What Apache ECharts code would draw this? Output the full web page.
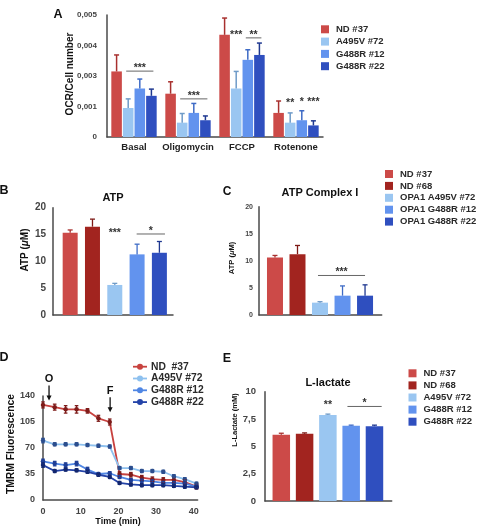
<!DOCTYPE html>
<html><head><meta charset="utf-8">
<script src="https://cdn.jsdelivr.net/npm/echarts@6.0.0/dist/echarts.min.js"></script>
<style>html,body{margin:0;padding:0;background:#fff}#c{width:477px;height:531px}</style>
</head><body><div id="c"></div>
<script>
// ---------------- DATA ----------------
// Panel A (OCR / cell number), plotted scale units
const aCategories = ['Basal', 'Oligomycin', 'FCCP', 'Rotenone'];
const aSeriesNames = ['ND #37', 'A495V #72', 'G488R #12', 'G488R #22'];
const aTickLabels = ['0', '0,001', '0,003', '0,004', '0,005'];
const aND37 = [0.00215, 0.00142, 0.00335, 0.00079];
const aA495V72 = [0.00095, 0.00047, 0.00159, 0.00047];
const aG488R12 = [0.00159, 0.00079, 0.00253, 0.00055];
const aG488R22 = [0.00135, 0.00055, 0.00269, 0.00038];
const aND37Err = [0.00054, 0.00039, 0.00055, 0.00039];
const aA495V72Err = [0.00030, 0.00030, 0.00056, 0.00032];
const aG488R12Err = [0.00031, 0.00031, 0.00033, 0.00031];
const aG488R22Err = [0.00022, 0.00014, 0.00039, 0.00015];
const aSig = [
  {cat: 0, from: 1, to: 3, y: 0.00216, text: '***', line: true},
  {cat: 1, from: 1, to: 3, y: 0.00125, text: '***', line: true},
  {cat: 2, from: 1, to: 1, y: 0.00340, text: '***', line: false},
  {cat: 2, from: 2, to: 3, y: 0.00325, text: '**', line: true},
  {cat: 3, from: 1, to: 1, y: 0.00118, text: '**', line: false},
  {cat: 3, from: 2, to: 2, y: 0.00122, text: '*', line: false},
  {cat: 3, from: 3, to: 3, y: 0.00120, text: '***', line: false}
];

// Panel B (ATP) and C (ATP Complex I)
const bcLegendNames = ['ND #37', 'ND #68', 'OPA1 A495V #72', 'OPA1 G488R #12', 'OPA1 G488R #22'];
const bValues = [15.35, 16.47, 5.6, 11.3, 11.6];
const bErrors = [0.5, 1.4, 0.3, 1.9, 2.1];
const bSig = [
  {from: 2, to: 2, y: 15.7, text: '***', line: false},
  {from: 2.98, to: 4.25, y: 15.1, text: '*', line: true}
];
const cValues = [10.6, 11.24, 2.28, 3.57, 3.57];
const cErrors = [0.4, 1.6, 0.18, 1.8, 2.0];
const cSig = [
  {from: 1.91, to: 4.0, y: 7.3, text: '***', line: true}
];
const yTicksBC = ['0', '5', '10', '15', '20'];

// Panel D (TMRM fluorescence over time)
const dLegendNames = ['ND  #37', 'A495V #72', 'G488R #12', 'G488R #22'];
const dTimes = [0, 3.1, 6, 8.9, 11.8, 14.7, 17.7, 20.3, 23.3, 26.2, 29, 31.9, 34.7, 37.6, 40.7];
const dND37 = [128, 125, 122, 122, 120, 110, 105, 35, 34, 30, 28, 27, 27, 24, 18];
const dA495V72 = [80, 75, 75, 75, 74, 73, 72, 43, 43, 39, 39, 38, 32, 28, 22];
const dG488R12 = [52, 49, 47, 49, 41, 35, 36, 31, 27, 26, 25, 23, 23, 22, 18];
const dG488R22 = [47, 39, 41, 40, 38, 34, 31, 23, 21, 20, 20, 20, 19, 18, 17];
const dND37Err = [4, 4, 5, 5, 3, 4, 4, 3, 3, 3, 3, 3, 3, 3, 3];
const dA495V72Err = [3, 2, 2, 2, 2, 2, 2, 2, 2, 2, 2, 2, 2, 2, 2];
const dG488R12Err = [3, 3, 3, 3, 3, 2, 2, 2, 2, 2, 2, 2, 2, 2, 2];
const dG488R22Err = [3, 2, 2, 2, 2, 2, 2, 2, 2, 2, 2, 2, 2, 2, 2];
const dArrowTimes = [1.6, 17.8];
const dArrowLevels = [134, 118];
const dArrowLabels = ['O', 'F'];

// Panel E (L-lactate)
const eLegendNames = ['ND #37', 'ND #68', 'A495V #72', 'G488R #12', 'G488R #22'];
const eValues = [6.06, 6.15, 7.86, 6.88, 6.85];
const eErrors = [0.14, 0.08, 0.09, 0.06, 0.09];
const eTickLabels = ['0', '2,5', '5', '7,5', '10'];
const eSig = [
  {from: 2, to: 2, y: 9.0, text: '**', line: false},
  {from: 2.84, to: 4.31, y: 8.65, text: '*', line: true}
];

// ---------------- STYLE ----------------
const FONT = '"Liberation Sans", Arial, Helvetica, sans-serif';
const cND37 = '#CC4A48', cND68 = '#A2241F', cA495V = '#9AC6F1', cG12 = '#6293EE', cG22 = '#2F4FBF';
const barColors5 = [cND37, cND68, cA495V, cG12, cG22];
const errColors5 = ['#A8302E', '#7E1A16', '#6F9BC8', '#3E6BC6', '#1F3890'];
const aColors = [cND37, cA495V, cG12, cG22];
const aErrColors = ['#A8302E', '#6F9BC8', '#3E6BC6', '#1F3890'];
const dLineColors = ['#C8423F', '#8EC1EF', '#4F86E4', '#2443A8'];
const dMarkColors = ['#7E1C1A', '#2C4E8E', '#1F3E96', '#13276F'];
const A_CAT_GAP = 0.16, A_BAR_GAP = 0.10;

const aValues = [aND37, aA495V72, aG488R12, aG488R22];
const aErrors = [aND37Err, aA495V72Err, aG488R12Err, aG488R22Err];
const dValues = [dND37, dA495V72, dG488R12, dG488R22];
const dErrors = [dND37Err, dA495V72Err, dG488R12Err, dG488R22Err];

function barCenterOffset(catWidth, idx, n) {
  const usable = catWidth * (1 - A_CAT_GAP);
  const bw = usable / (n + (n - 1) * A_BAR_GAP);
  return -usable / 2 + idx * bw * (1 + A_BAR_GAP) + bw / 2;
}

const axisLine = {show: true, onZero: false, lineStyle: {color: '#4a4a4a', width: 1.5}};
function yAxisCfg(gi, min, max, interval, fs, margin, formatter) {
  return {type: 'value', gridIndex: gi, min, max, interval,
    axisLine, axisTick: {show: false}, splitLine: {show: false},
    axisLabel: {fontFamily: FONT, fontWeight: 'bold', fontSize: fs, color: '#444', margin, formatter}};
}
function hiddenXValue(gi, min, max) {
  return {type: 'value', gridIndex: gi, min, max, axisLine,
    axisTick: {show: false}, splitLine: {show: false}, axisLabel: {show: false}};
}

function errRenderCat(sIdx, color) {
  return function (params, api) {
    const cat = api.value(0);
    const base = api.coord([cat, api.value(1)]);
    const top = api.coord([cat, api.value(1) + api.value(2)]);
    const w = api.size([1, 0])[0];
    const x = base[0] + barCenterOffset(w, sIdx, 4);
    return {type: 'group', children: [
      {type: 'line', shape: {x1: x, y1: base[1], x2: x, y2: top[1]}, style: {stroke: color, lineWidth: 1.5}},
      {type: 'line', shape: {x1: x - 2.5, y1: top[1], x2: x + 2.5, y2: top[1]}, style: {stroke: color, lineWidth: 1.5}}
    ]};
  };
}
function errRenderVal(colors, cap, both) {
  return function (params, api) {
    const x = api.value(0), v = api.value(1), e = api.value(2);
    const base = api.coord([x, both ? v - e : v]);
    const top = api.coord([x, v + e]);
    const col = colors[params.dataIndex] || colors[0];
    const ch = [
      {type: 'line', shape: {x1: base[0], y1: base[1], x2: base[0], y2: top[1]}, style: {stroke: col, lineWidth: 1.3}},
      {type: 'line', shape: {x1: base[0] - cap, y1: top[1], x2: base[0] + cap, y2: top[1]}, style: {stroke: col, lineWidth: 1.3}}
    ];
    if (both) ch.push({type: 'line', shape: {x1: base[0] - cap, y1: base[1], x2: base[0] + cap, y2: base[1]}, style: {stroke: col, lineWidth: 1.3}});
    return {type: 'group', children: ch};
  };
}
function sigRender(list, catMode, fs) {
  return function (params, api) {
    const s = list[params.dataIndex];
    let x1, x2, py;
    if (catMode) {
      const c = api.coord([s.cat, s.y]);
      const w = api.size([1, 0])[0];
      x1 = c[0] + barCenterOffset(w, s.from, 4) - (s.line ? 2 : 0);
      x2 = c[0] + barCenterOffset(w, s.to, 4) + (s.line ? 2 : 0);
      py = c[1];
    } else {
      const a = api.coord([s.from, s.y]), b = api.coord([s.to, s.y]);
      x1 = a[0]; x2 = b[0]; py = a[1];
    }
    const ch = [];
    if (s.line) ch.push({type: 'line', shape: {x1, y1: py, x2, y2: py}, style: {stroke: '#666', lineWidth: 1}});
    ch.push({type: 'text', x: (x1 + x2) / 2, y: py - (s.line ? 5 : 0) + 2,
      style: {text: s.text, fontFamily: FONT, fontWeight: 'bold', fontSize: fs, fill: '#333', align: 'center', verticalAlign: 'middle'}});
    return {type: 'group', children: ch};
  };
}
function arrowRender(params, api) {
  const p = api.coord([api.value(0), api.value(1)]);
  const x = p[0], tip = p[1];
  return {type: 'group', children: [
    {type: 'line', shape: {x1: x, y1: tip - 15, x2: x, y2: tip - 3}, style: {stroke: '#111', lineWidth: 1.3}},
    {type: 'polygon', shape: {points: [[x - 2.5, tip - 5], [x + 2.5, tip - 5], [x, tip]]}, style: {fill: '#111'}},
    {type: 'text', x: x, y: tip - 21, style: {text: dArrowLabels[params.dataIndex], fontFamily: FONT, fontWeight: 'bold', fontSize: 11, fill: '#111', align: 'center', verticalAlign: 'middle'}}
  ]};
}

// ---------------- SERIES ----------------
const series = [];
aSeriesNames.forEach((name, i) => {
  series.push({type: 'bar', name, xAxisIndex: 0, yAxisIndex: 0, data: aValues[i],
    barGap: (A_BAR_GAP * 100) + '%', barCategoryGap: (A_CAT_GAP * 100) + '%',
    itemStyle: {color: aColors[i]}, z: 2});
});
aSeriesNames.forEach((name, i) => {
  series.push({type: 'custom', xAxisIndex: 0, yAxisIndex: 0, z: 3,
    data: aValues[i].map((v, k) => [k, v, aErrors[i][k]]), renderItem: errRenderCat(i, aErrColors[i])});
});
series.push({type: 'custom', xAxisIndex: 0, yAxisIndex: 0, z: 4,
  data: aSig.map(s => [s.cat, s.y]), renderItem: sigRender(aSig, true, 10.5)});

[[1, bValues, bErrors, bSig, 15], [2, cValues, cErrors, cSig, 16], [4, eValues, eErrors, eSig, 17.5]].forEach(([gi, vals, errs, sig, bw]) => {
  series.push({type: 'bar', xAxisIndex: gi, yAxisIndex: gi, barWidth: bw, z: 2,
    data: vals.map((v, i) => ({value: [i, v], itemStyle: {color: barColors5[i]}}))});
  series.push({type: 'custom', xAxisIndex: gi, yAxisIndex: gi, z: 3,
    data: vals.map((v, i) => [i, v, errs[i]]), renderItem: errRenderVal(errColors5, 2.5, false)});
  series.push({type: 'custom', xAxisIndex: gi, yAxisIndex: gi, z: 4,
    data: sig.map(s => [s.from, s.y]), renderItem: sigRender(sig, false, 10.5)});
});

dLegendNames.forEach((name, i) => {
  series.push({type: 'line', name, xAxisIndex: 3, yAxisIndex: 3, z: 3,
    data: dTimes.map((t, k) => [t, dValues[i][k]]),
    symbol: 'circle', symbolSize: 4.5, showSymbol: true,
    lineStyle: {color: dLineColors[i], width: 1.8}, itemStyle: {color: dMarkColors[i]}});
  series.push({type: 'custom', xAxisIndex: 3, yAxisIndex: 3, z: 4,
    data: dTimes.map((t, k) => [t, dValues[i][k], dErrors[i][k]]),
    renderItem: errRenderVal([dMarkColors[i]], 1.8, true)});
});
series.push({type: 'custom', xAxisIndex: 3, yAxisIndex: 3, z: 5,
  data: dArrowTimes.map((t, k) => [t, dArrowLevels[k]]), renderItem: arrowRender});

// ---------------- GRAPHIC (letters, titles, axis names, legends) ----------------
const g = [];
function txt(text, x, y, fs, opts) {
  opts = opts || {};
  g.push({type: 'text', x, y, rotation: opts.rot || 0, z: 10,
    style: {text, fontFamily: FONT, fontWeight: 'bold', fontSize: fs, fill: opts.fill || '#111',
      align: opts.align || 'center', verticalAlign: 'middle', textAlign: opts.align || 'center', textVerticalAlign: 'middle'}});
}
function muText(x, y, fs) {
  g.push({type: 'text', x, y, rotation: Math.PI / 2, z: 10,
    style: {text: '{a|ATP (}{b|μ}{a|M)}', align: 'center', verticalAlign: 'middle', textAlign: 'center', textVerticalAlign: 'middle',
      rich: {a: {fontFamily: FONT, fontWeight: 'bold', fontSize: fs, fill: '#111'},
             b: {fontFamily: FONT, fontWeight: 'bold', fontStyle: 'italic', fontSize: fs, fill: '#111'}}}});
}
txt('A', 58, 15, 12.5); txt('B', 4, 191, 12.5); txt('C', 227, 191.5, 12); txt('D', 4, 357.5, 12.5); txt('E', 227, 358.5, 12.5);
txt('ATP', 113, 198, 11); txt('ATP Complex I', 320, 193, 11); txt('L-lactate', 328, 383, 11);
txt('OCR/Cell number', 70, 74, 10, {rot: Math.PI / 2});
muText(25, 250, 10);
muText(232, 258, 7.5);
txt('TMRM Fluorescence', 11, 444, 10.3, {rot: Math.PI / 2});
txt('Time (min)', 118, 522, 9);
txt('L-Lactate (mM)', 235, 420, 7.5, {rot: Math.PI / 2});
function squareLegend(names, colors, x, y0, gap, fs) {
  names.forEach((n, i) => {
    const cy = y0 + i * gap;
    g.push({type: 'rect', z: 10, shape: {x, y: cy - 4, width: 8, height: 8}, style: {fill: colors[i]}});
    txt(n, x + 15, cy, fs, {align: 'left', fill: '#2a2a2a'});
  });
}
squareLegend(aSeriesNames, aColors, 321, 29.3, 12.3, 9.5);
squareLegend(bcLegendNames, barColors5, 385, 174, 11.9, 9.5);
squareLegend(eLegendNames, barColors5, 408.5, 373.3, 12.1, 9.5);
dLegendNames.forEach((n, i) => {
  const cy = 366.7 + i * 11.8;
  g.push({type: 'line', z: 10, shape: {x1: 133, y1: cy, x2: 147, y2: cy}, style: {stroke: dLineColors[i], lineWidth: 1.8}});
  g.push({type: 'circle', z: 10, shape: {cx: 140, cy, r: 3}, style: {fill: dLineColors[i]}});
  txt(n, 151, cy, 10.3, {align: 'left', fill: '#2a2a2a'});
});

// ---------------- OPTION ----------------
const option = {
  animation: false,
  backgroundColor: '#fff',
  grid: [
    {left: 107, top: 15, width: 216, height: 122},
    {left: 53, top: 207.7, width: 120, height: 107.3},
    {left: 259, top: 206.7, width: 122.7, height: 108.3},
    {left: 43, top: 396, width: 154.6, height: 104},
    {left: 265, top: 391.7, width: 126.7, height: 109.3}
  ],
  xAxis: [
    {type: 'category', gridIndex: 0, data: aCategories, axisLine, axisTick: {show: false},
      axisLabel: {interval: 0, fontFamily: FONT, fontWeight: 'bold', fontSize: 9.5, color: '#222', margin: 5}},
    hiddenXValue(1, -0.77, 4.61),
    hiddenXValue(2, -0.71, 4.74),
    {type: 'value', gridIndex: 3, min: 0, max: 41, interval: 10, axisLine, axisTick: {show: false}, splitLine: {show: false},
      axisLabel: {fontFamily: FONT, fontWeight: 'bold', fontSize: 9, color: '#444', margin: 7, showMaxLabel: false}},
    hiddenXValue(4, -0.7, 4.74)
  ],
  yAxis: [
    yAxisCfg(0, 0, 0.004, 0.001, 8, 10, v => aTickLabels[Math.round(v / 0.001)]),
    yAxisCfg(1, 0, 20, 5, 10, 7, v => yTicksBC[Math.round(v / 5)]),
    yAxisCfg(2, 0, 20, 5, 7, 6, v => yTicksBC[Math.round(v / 5)]),
    yAxisCfg(3, 0, 140, 35, 9, 8),
    yAxisCfg(4, 0, 10, 2.5, 9.5, 9, v => eTickLabels[Math.round(v / 2.5)])
  ],
  series,
  graphic: g
};
const chart = echarts.init(document.getElementById('c'));
chart.setOption(option);
</script></body></html>
